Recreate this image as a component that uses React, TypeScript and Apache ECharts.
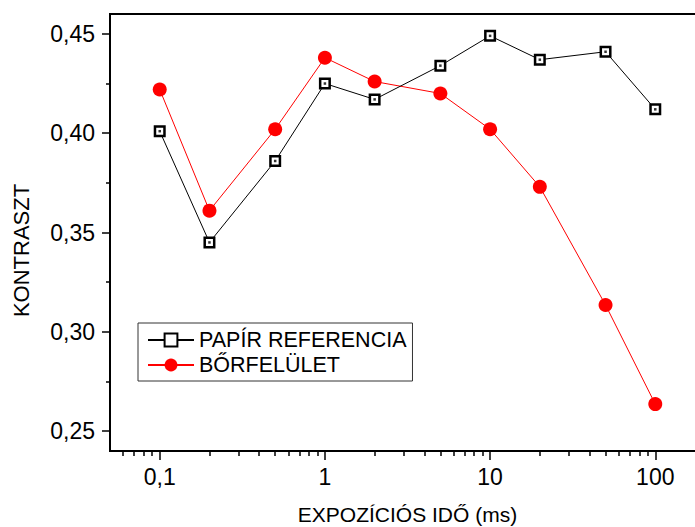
import React, { useEffect, useRef } from "react";
import * as echarts from "echarts";

const exposureMs = [0.1, 0.2, 0.5, 1, 2, 5, 10, 20, 50, 100];
const paperReference = [0.401, 0.345, 0.386, 0.425, 0.417, 0.434, 0.449, 0.437, 0.441, 0.412];
const skinSurface = [0.422, 0.361, 0.402, 0.438, 0.426, 0.420, 0.402, 0.373, 0.3135, 0.2636];

const xMajorTicks = [0.1, 1, 10, 100];
const xMinorTicks = [
  0.06, 0.07, 0.08, 0.09,
  0.2, 0.3, 0.4, 0.5, 0.6, 0.7, 0.8, 0.9,
  2, 3, 4, 5, 6, 7, 8, 9,
  20, 30, 40, 50, 60, 70, 80, 90,
];
const yMajorTicks = [0.25, 0.3, 0.35, 0.4, 0.45];
const yMinorTicks = [0.275, 0.325, 0.375, 0.425];

const seriesNames = ["PAPÍR REFERENCIA", "BŐRFELÜLET"];
const xTitle = "EXPOZÍCIÓS IDŐ (ms)";
const yTitle = "KONTRASZT";

const FONT = "Liberation Sans, Arial, sans-serif";

export default function App() {
  const ref = useRef<HTMLDivElement>(null);

  useEffect(() => {
    if (!ref.current) return;
    const chart = echarts.init(ref.current, null, { renderer: "svg" });

    const refData = exposureMs.map((x, i) => [x, paperReference[i]]);
    const skinData = exposureMs.map((x, i) => [x, skinSurface[i]]);

    const fmtX = (v: number) => String(v).replace(".", ",");
    const fmtY = (v: number) => v.toFixed(2).replace(".", ",");

    chart.setOption({
      animation: false,
      backgroundColor: "#fff",
      textStyle: { fontFamily: FONT, color: "#000" },
      grid: {
        left: 110,
        top: 14,
        width: 595,
        height: 437,
        containLabel: false,
        outerBoundsMode: "none",
        show: true,
        borderColor: "#000",
        borderWidth: 2,
        backgroundColor: "transparent",
      },
      xAxis: [
        {
          type: "log",
          logBase: 10,
          min: 0.05,
          max: 200,
          position: "bottom",
          name: xTitle,
          nameLocation: "middle",
          nameGap: 53,
          nameTextStyle: { fontSize: 21, color: "#000", fontFamily: FONT },
          axisLine: { show: true, lineStyle: { color: "#000", width: 2 } },
          axisTick: {
            show: true,
            inside: false,
            length: 9,
            lineStyle: { color: "#000", width: 1.5 },
            customValues: xMajorTicks,
          },
          axisLabel: {
            show: true,
            fontSize: 23,
            color: "#000",
            fontFamily: FONT,
            margin: 14,
            customValues: xMajorTicks,
            formatter: (v: number) => fmtX(v),
          },
          splitLine: { show: false },
          minorTick: { show: false },
        },
        {
          type: "log",
          logBase: 10,
          min: 0.05,
          max: 200,
          position: "bottom",
          axisLine: { show: false },
          axisTick: {
            show: true,
            inside: false,
            length: 5,
            lineStyle: { color: "#000", width: 1.5 },
            customValues: xMinorTicks,
          },
          axisLabel: { show: false },
          splitLine: { show: false },
        },
      ],
      yAxis: [
        {
          type: "value",
          min: 0.24,
          max: 0.46,
          position: "left",
          name: yTitle,
          nameLocation: "middle",
          nameRotate: 90,
          nameGap: 78,
          nameTextStyle: { fontSize: 22, color: "#000", fontFamily: FONT, padding: [0, 36, 0, 0] },
          axisLine: { show: true, lineStyle: { color: "#000", width: 2 } },
          axisTick: {
            show: true,
            inside: false,
            length: 8,
            lineStyle: { color: "#000", width: 1.5 },
            customValues: yMajorTicks,
          },
          axisLabel: {
            show: true,
            fontSize: 23,
            color: "#000",
            fontFamily: FONT,
            margin: 15,
            customValues: yMajorTicks,
            formatter: (v: number) => fmtY(v),
          },
          splitLine: { show: false },
        },
        {
          type: "value",
          min: 0.24,
          max: 0.46,
          position: "left",
          axisLine: { show: false },
          axisTick: {
            show: true,
            inside: false,
            length: 4,
            lineStyle: { color: "#000", width: 1.5 },
            customValues: yMinorTicks,
          },
          axisLabel: { show: false },
          splitLine: { show: false },
        },
      ],
      legend: {
        orient: "vertical",
        left: 138,
        top: 323,
        width: 275,
        padding: [6, 6, 5, 9],
        itemGap: 3,
        itemWidth: 46,
        itemHeight: 16,
        borderColor: "#333",
        borderWidth: 1,
        backgroundColor: "#fff",
        textStyle: { fontSize: 21.5, color: "#000", fontFamily: FONT },
        data: seriesNames,
      },
      series: [
        {
          name: seriesNames[0],
          type: "line",
          xAxisIndex: 0,
          yAxisIndex: 0,
          data: refData,
          symbol: "rect",
          symbolSize: 9.5,
          lineStyle: { color: "#000", width: 1 },
          itemStyle: { color: "#fff", borderColor: "#000", borderWidth: 2.5 },
          z: 3,
        },
        {
          name: "papír-pont",
          type: "scatter",
          xAxisIndex: 0,
          yAxisIndex: 0,
          data: refData,
          symbol: "rect",
          symbolSize: 2.5,
          itemStyle: { color: "#000" },
          silent: true,
          z: 4,
        },
        {
          name: seriesNames[1],
          type: "line",
          xAxisIndex: 0,
          yAxisIndex: 0,
          data: skinData,
          symbol: "circle",
          symbolSize: 14,
          lineStyle: { color: "#ff0000", width: 1 },
          itemStyle: { color: "#ff0000", borderWidth: 0 },
          z: 2,
        },
      ],
    });

    return () => chart.dispose();
  }, []);

  return (
    <div
      ref={ref}
      style={{ position: "fixed", left: 0, top: 0, width: 695, height: 527 }}
    />
  );
}
